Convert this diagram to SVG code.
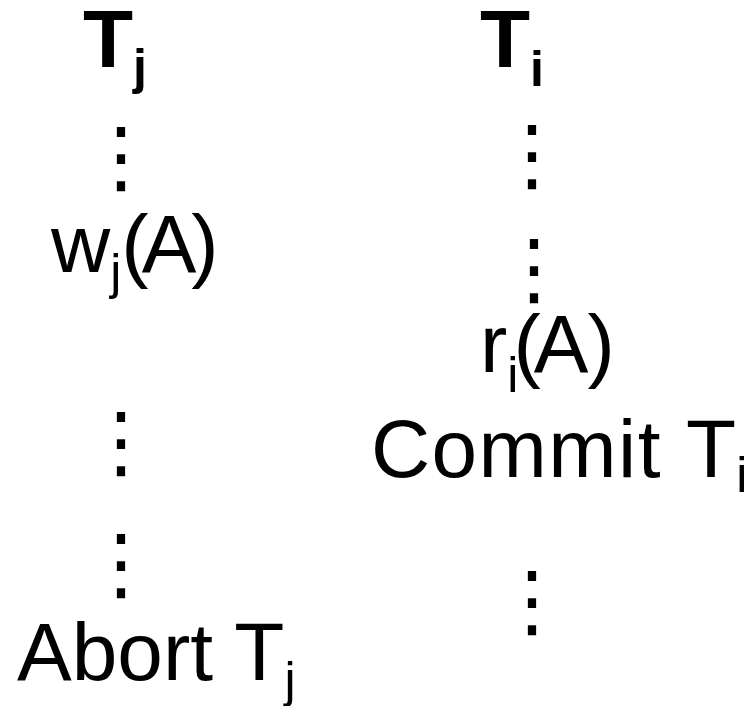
<svg xmlns="http://www.w3.org/2000/svg" width="745" height="706" viewBox="0 0 745 706">
<style>
text{font-family:"Liberation Sans",Arial,sans-serif;font-size:82px;fill:#000}
.b{font-weight:bold}
.s{font-size:50px}
.d{font-family:"DejaVu Sans",sans-serif;font-size:80px;text-anchor:middle}
</style>
<rect width="745" height="706" fill="#fff"/>
<g id="Tj"><text class="b" x="83" y="67">T<tspan class="s" dy="17">j</tspan></text></g>
<g id="Ti"><text class="b" x="480" y="67">T<tspan class="s" dy="19">i</tspan></text></g>
<g id="dots-j1"><text class="d" x="121" y="184">⋮</text></g>
<g id="dots-i1"><text class="d" x="532" y="182">⋮</text></g>
<g id="wjA"><text x="51" y="272">w<tspan class="s" dy="17">j</tspan><tspan dy="-17" dx="0 -7 -5">(A)</tspan></text></g>
<g id="dots-i2"><text class="d" x="534" y="296">⋮</text></g>
<g id="riA"><text x="480" y="372">r<tspan class="s" dy="20">i</tspan><tspan dy="-20" dx="-5 -7 -1">(A)</tspan></text></g>
<g id="dots-j2"><text class="d" x="121" y="469">⋮</text></g>
<g id="commit"><text x="371" y="477"><tspan letter-spacing="1.4">Commit </tspan>T<tspan class="s" dy="15">i</tspan></text></g>
<g id="dots-j3"><text class="d" x="121" y="591">⋮</text></g>
<g id="dots-i3"><text class="d" x="532" y="628">⋮</text></g>
<g id="abort"><text x="17" y="680">Abort T<tspan class="s" dy="17">j</tspan></text></g>
</svg>
